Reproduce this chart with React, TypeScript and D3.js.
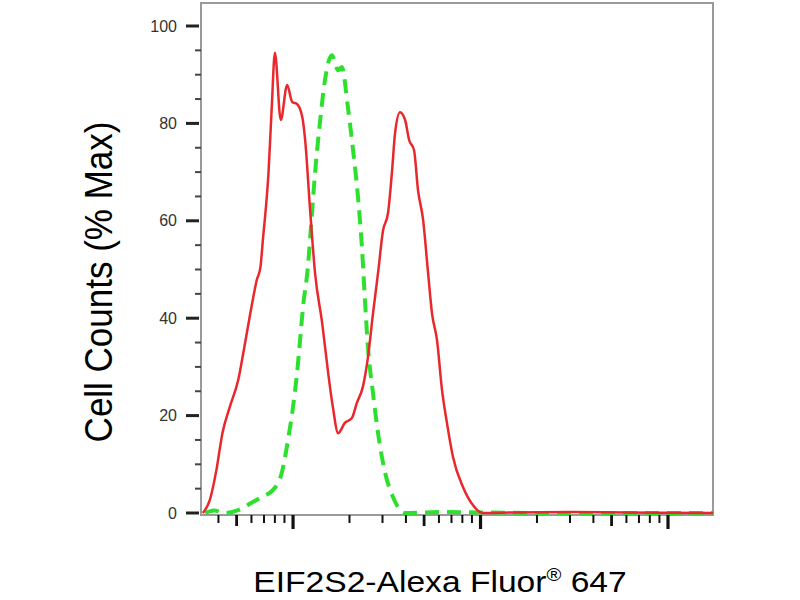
import * as d3 from "d3";

// fluorescence intensity (log axis) and % max
const stainedX = [
  33, 36, 39, 42, 46, 51, 55, 60, 64, 67, 69, 74, 77, 80, 86, 93, 99, 105, 112,
  116, 123, 131, 143, 154, 163, 174, 189, 206, 219, 236, 251, 267, 284, 302,
  321, 337, 350, 372, 396, 416, 442, 464, 494, 525, 551, 586, 623, 662, 713,
  807, 912, 1031, 1500, 3000, 6000, 17400,
];
const stainedY = [
  0, 2.7, 8.8, 16.4, 21.8, 27.3, 34.1, 42.3, 47.8, 50.5, 56, 70, 83.4, 94.5,
  80.7, 87.9, 84.4, 84, 81.3, 76.6, 62.8, 49.3, 39, 28.7, 21.8, 16.4, 18.5,
  19.5, 22.6, 26, 32, 41, 49.3, 58, 61.6, 70, 78, 82.3, 80.7, 76.6, 74.5, 66.3,
  60.2, 49.3, 41, 35.5, 25.3, 18.5, 11.5, 5.3, 1.6, 0, 0.1, 0.2, 0.1, 0,
];

const isotypeX = [
  34, 38, 43, 51, 60, 68, 78, 87, 94, 100, 105, 109, 113, 120, 125, 131, 139,
  148, 161, 174, 182, 196, 209, 222, 233, 242, 251, 267, 284, 310, 341, 396,
  608, 2000, 17400,
];
const isotypeY = [
  0, 0.5, 0, 0.6, 2.1, 3.3, 4.7, 8.2, 15, 21.8, 28.7, 35.5, 42.3, 50.5, 59.5,
  69.8, 80, 88.9, 94, 90.9, 91.6, 83.4, 74.5, 64.9, 54.6, 43.5, 34, 24.6, 16.4,
  8.2, 3.3, 0, 0.2, 0, 0,
];

const yTicks = [0, 20, 40, 60, 80, 100];
const yTickLabels = ["0", "20", "40", "60", "80", "100"];
const decades = [10, 100, 1000, 10000];

const xTitle = "EIF2S2-Alexa Fluor";
const xTitleMark = "®";
const xTitleEnd = " 647";
const yTitle = "Cell Counts (% Max)";

const left = 201;
const right = 713;
const top = 3;
const bottom = 515;

type Pt = { x: number; y: number };

export default function App() {
  const x = d3
    .scaleLog()
    .domain([Math.pow(10, 1.509), Math.pow(10, 4.24)])
    .range([left, right]);
  const y = d3.scaleLinear().domain([0, 100]).range([513, 26]);

  const stained: Pt[] = stainedX.map((v, i) => ({ x: v, y: stainedY[i] }));
  const isotype: Pt[] = isotypeX.map((v, i) => ({ x: v, y: isotypeY[i] }));

  const line = d3
    .line<Pt>()
    .x((d) => x(d.x))
    .y((d) => y(d.y))
    .curve(d3.curveMonotoneX);

  const [d0, d1] = x.domain();
  const xTicks: { v: number; k: number }[] = [];
  decades.forEach((dec) => {
    for (let k = 1; k <= 9; k++) {
      const v = dec * k;
      if (v >= d0 && v <= d1) xTicks.push({ v, k });
    }
  });

  const yMinor = d3.range(0, 101, 5).filter((v) => v % 20 !== 0);

  return (
    <svg
      width={800}
      height={600}
      style={{ position: "absolute", left: 0, top: 0, background: "#fff" }}
      fontFamily="Liberation Sans, Arial, sans-serif"
    >
      {/* frame */}
      <rect
        x={left}
        y={top}
        width={right - left}
        height={bottom - top}
        fill="none"
        stroke="#9a9a9a"
        strokeWidth={2}
      />

      {/* y ticks */}
      {yMinor.map((v) => (
        <line
          key={"ym" + v}
          x1={195}
          x2={left}
          y1={y(v)}
          y2={y(v)}
          stroke="#444"
          strokeWidth={2}
        />
      ))}
      {yTicks.map((v, i) => (
        <g key={"y" + v}>
          <line
            x1={186}
            x2={199}
            y1={y(v)}
            y2={y(v)}
            stroke="#222"
            strokeWidth={3}
          />
          <text
            x={177}
            y={y(v)}
            dy="0.35em"
            textAnchor="end"
            fontSize={16}
            fill="#333"
          >
            {yTickLabels[i]}
          </text>
        </g>
      ))}

      {/* x ticks */}
      {xTicks.map((t) => {
        const len = t.k === 1 ? 14 : t.k === 5 ? 11 : 8;
        const w = t.k === 1 ? 3.2 : t.k === 5 ? 2.8 : 2;
        return (
          <line
            key={"x" + t.v}
            x1={x(t.v)}
            x2={x(t.v)}
            y1={bottom}
            y2={bottom + len}
            stroke="#111"
            strokeWidth={w}
          />
        );
      })}

      {/* curves */}
      <path
        d={line(isotype) ?? ""}
        fill="none"
        stroke="#2ee02e"
        strokeWidth={4}
        strokeDasharray="14 8"
      />
      <path
        d={line(stained) ?? ""}
        fill="none"
        stroke="#e8282c"
        strokeWidth={2.5}
        strokeLinejoin="round"
      />

      {/* titles */}
      <text
        transform="translate(98,282) scale(1.13,1) rotate(-90)"
        textAnchor="middle"
        dy="0.35em"
        fontSize={35}
        fill="#000"
      >
        {yTitle}
      </text>
      <text
        transform="translate(440,592) scale(1.12,1)"
        textAnchor="middle"
        fontSize={30}
        fill="#000"
      >
        {xTitle}
        <tspan fontSize={18} dy={-11}>
          {xTitleMark}
        </tspan>
        <tspan dy={11}>{xTitleEnd}</tspan>
      </text>
    </svg>
  );
}
